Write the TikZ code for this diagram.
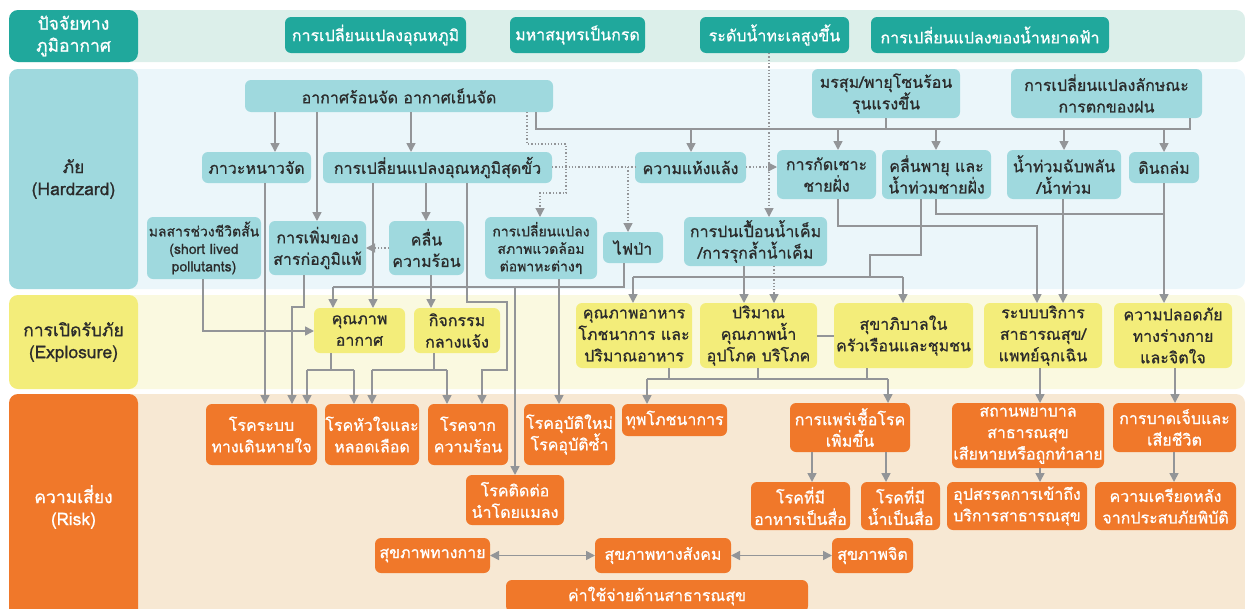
\documentclass[tikz,border=0pt]{standalone}
\usepackage{fontspec}
\usetikzlibrary{arrows.meta}
\newfontfamily\thai[Script=Thai,FakeBold=0.8]{Loma}
\definecolor{tpc}{HTML}{20A89C}
\definecolor{tpbg}{HTML}{DCEFEA}
\definecolor{hzc}{HTML}{9FD9DE}
\definecolor{hzbg}{HTML}{EBF6FA}
\definecolor{xpc}{HTML}{F3ED7A}
\definecolor{xpbg}{HTML}{FAF9E0}
\definecolor{rkc}{HTML}{F0782A}
\definecolor{rkbg}{HTML}{F7E8D3}
\definecolor{lnc}{HTML}{939598}
\definecolor{txt}{HTML}{2B2B2B}
\newcommand\bx[7]{\node[#1,minimum width={(#5)-(#3)},minimum height={(#6)-(#4)}] (#2) at ({((#3)+(#5))/2},{((#4)+(#6))/2}) {#7};}
\tikzset{
 base/.style={inner sep=0pt, outer sep=0pt, rounded corners=6pt, align=center, font=\thai\fontsize{16}{21.5}\selectfont},
 tp/.style={base, fill=tpc, text=white},
 hz/.style={base, fill=hzc, text=txt},
 xp/.style={base, fill=xpc, text=txt},
 rk/.style={base, fill=rkc, text=white},
 small/.style={font=\thai\fontsize{14}{17.5}\selectfont},
 lab/.style={rounded corners=9pt, font=\thai\fontsize{17.5}{22}\selectfont},
 ln/.style={draw=lnc, line width=1.6pt},
 ar/.style={ln, -{Triangle[width=9pt,length=9pt]}},
 dt/.style={draw=lnc, line width=1.3pt, dotted},
 dtar/.style={dt, -{Triangle[width=9pt,length=9pt]}},
 dar/.style={ln, {Triangle[width=9pt,length=9pt]}-{Triangle[width=9pt,length=9pt]}}
}
\begin{document}
\begin{tikzpicture}[x=1pt,y=-1pt]
\useasboundingbox (0,0) rectangle (1245,608);
% bands
\fill[tpbg, rounded corners=9pt] (10,10) rectangle (1245,62);
\fill[hzbg, rounded corners=9pt] (10,69) rectangle (1245,289);
\fill[xpbg, rounded corners=9pt] (10,295) rectangle (1245,389);
\fill[rkbg, rounded corners=9pt] (10,394) rectangle (1245,620);
% labels
\bx{tp,lab}{L1}{9}{10}{138}{62}{ปัจจัยทาง\\ภูมิอากาศ}
\bx{hz,lab}{L2}{9}{69}{138}{289}{ภัย\\(Hardzard)}
\bx{xp,lab}{L3}{9}{295}{138}{389}{การเปิดรับภัย\\(Explosure)}
\bx{rk,lab}{L4}{9}{394}{138}{620}{ความเสี่ยง\\(Risk)}
% top nodes
\bx{tp}{t1}{285}{17}{466}{53}{การเปลี่ยนแปลงอุณหภูมิ}
\bx{tp}{t2}{510}{17}{645}{53}{มหาสมุทรเป็นกรด}
\bx{tp}{t3}{700}{17}{849}{53}{ระดับน้ำทะเลสูงขึ้น}
\bx{tp}{t4}{871}{17}{1109}{53}{การเปลี่ยนแปลงของน้ำหยาดฟ้า}
% hazard nodes
\bx{hz}{A}{245}{80}{553}{112}{อากาศร้อนจัด อากาศเย็นจัด}
\bx{hz}{mr}{812}{69}{960}{118}{มรสุม/พายุโซนร้อน\\รุนแรงขึ้น}
\bx{hz}{rc}{1011}{69}{1202}{118}{การเปลี่ยนแปลงลักษณะ\\การตกของฝน}
\bx{hz}{hn}{202}{152}{311}{183}{ภาวะหนาวจัด}
\bx{hz}{ex}{323}{152}{552}{183}{การเปลี่ยนแปลงอุณหภูมิสุดขั้ว}
\bx{hz}{dr}{635}{152}{746}{183}{ความแห้งแล้ง}
\bx{hz}{er}{777}{150}{876}{199}{การกัดเซาะ\\ชายฝั่ง}
\bx{hz}{ss}{882}{150}{991}{199}{คลื่นพายุ และ\\น้ำท่วมชายฝั่ง}
\bx{hz}{fl}{1007}{150}{1121}{199}{น้ำท่วมฉับพลัน\\/น้ำท่วม}
\bx{hz}{ls}{1129}{152}{1199}{183}{ดินถล่ม}
\bx{hz,small}{sl}{147}{217}{261}{279}{มลสารช่วงชีวิตสั้น\\(short lived\\pollutants)}
\bx{hz}{al}{269}{221}{366}{275}{การเพิ่มของ\\สารก่อภูมิแพ้}
\bx{hz}{hw}{389}{221}{464}{275}{คลื่น\\ความร้อน}
\bx{hz,small}{ec}{485}{217}{597}{279}{การเปลี่ยนแปลง\\สภาพแวดล้อม\\ต่อพาหะต่างๆ}
\bx{hz}{wf}{603}{232}{663}{263}{ไฟป่า}
\bx{hz}{sw}{684}{217}{827}{266}{การปนเปื้อนน้ำเค็ม\\/การรุกล้ำน้ำเค็ม}
% exposure nodes
\bx{xp}{aq}{314}{308}{405}{353}{คุณภาพ\\อากาศ}
\bx{xp}{oa}{414}{308}{500}{353}{กิจกรรม\\กลางแจ้ง}
\bx{xp}{fd}{576}{303}{692}{368}{คุณภาพอาหาร\\โภชนาการ และ\\ปริมาณอาหาร}
\bx{xp}{wq}{700}{303}{817}{368}{ปริมาณ\\คุณภาพน้ำ\\อุปโภค บริโภค}
\bx{xp}{sn}{834}{303}{973}{368}{สุขาภิบาลใน\\ครัวเรือนและชุมชน}
\bx{xp}{hs}{984}{303}{1102}{368}{ระบบบริการ\\สาธารณสุข/\\แพทย์ฉุกเฉิน}
\bx{xp}{sf}{1114}{303}{1232}{368}{ความปลอดภัย\\ทางร่างกาย\\และจิตใจ}
% risk nodes
\bx{rk}{rs}{206}{404}{317}{465}{โรคระบบ\\ทางเดินหายใจ}
\bx{rk}{cv}{325}{404}{419}{465}{โรคหัวใจและ\\หลอดเลือด}
\bx{rk}{ht}{428}{404}{508}{465}{โรคจาก\\ความร้อน}
\bx{rk}{em}{524}{404}{615}{465}{โรคอุบัติใหม่\\โรคอุบัติซ้ำ}
\bx{rk}{vb}{466}{475}{564}{525}{โรคติดต่อ\\นำโดยแมลง}
\bx{rk}{ml}{622}{404}{727}{436}{ทุพโภชนาการ}
\bx{rk}{sp}{790}{403}{910}{452}{การแพร่เชื้อโรค\\เพิ่มขึ้น}
\bx{rk}{hf}{952}{403}{1104}{468}{สถานพยาบาล\\สาธารณสุข\\เสียหายหรือถูกทำลาย}
\bx{rk}{inj}{1113}{403}{1236}{452}{การบาดเจ็บและ\\เสียชีวิต}
\bx{rk}{fb}{751}{482}{850}{530}{โรคที่มี\\อาหารเป็นสื่อ}
\bx{rk}{wb}{861}{482}{940}{530}{โรคที่มี\\น้ำเป็นสื่อ}
\bx{rk}{ob}{947}{482}{1087}{530}{อุปสรรคการเข้าถึง\\บริการสาธารณสุข}
\bx{rk}{ps}{1095}{482}{1236}{530}{ความเครียดหลัง\\จากประสบภัยพิบัติ}
\bx{rk}{ph}{375}{538}{490}{573}{สุขภาพทางกาย}
\bx{rk}{so}{595}{538}{731}{573}{สุขภาพทางสังคม}
\bx{rk}{mh}{832}{538}{913}{573}{สุขภาพจิต}
\bx{rk}{co}{506}{580}{808}{612}{ค่าใช้จ่ายด้านสาธารณสุข}
% ---- connectors: hazard level
\draw[ar] (275,0 |- A.south) -- (275,0 |- hn.north);
\draw[ar] (317,0 |- A.south) -- (317,0 |- al.north);
\draw[ar] (411,0 |- A.south) -- (411,0 |- ex.north);
\draw[dtar] (527,0 |- A.south) -- (527,144) -- (566,144) -- (566,193) -- (540,193) -- (540,0 |- ec.north);
\draw[ln] (536,0 |- A.south) -- (536,129) -- (1190,129) -- (1190,0 |- rc.south);
\draw[ln] (886,0 |- mr.south) -- (886,129);
\draw[ar] (691,129) -- (691,0 |- dr.north);
\draw[ar] (838,129) -- (838,0 |- er.north);
\draw[ar] (936,129) -- (936,0 |- ss.north);
\draw[ar] (1064,129) -- (1064,0 |- fl.north);
\draw[ar] (1164,129) -- (1164,0 |- ls.north);
\draw[ar] (426,0 |- ex.south) -- (426,0 |- hw.north);
\draw[dtar] (hw.west |- 0,248) -- (al.east |- 0,248);
\draw[dt] (ex.east |- 0,167) -- (dr.west |- 0,167);
\draw[dtar] (628,167) -- (628,0 |- wf.north);
\draw[dtar] (dr.east |- 0,167) -- (er.west |- 0,167);
\draw[dtar] (769,0 |- t3.south) -- (769,0 |- sw.north);
\draw[dtar] (774,0 |- sw.south) -- (774,0 |- wq.north);
% hazard -> exposure / risk
\draw[ar] (265,0 |- hn.south) -- (265,0 |- rs.north);
\draw[ar] (304,0 |- al.south) -- (304,307) -- (292,307) -- (292,0 |- rs.north);
\draw[ar] (203,0 |- sl.south) -- (203,331) -- (aq.west |- 0,331);
\draw[ar] (373,0 |- ex.south) -- (373,0 |- aq.north);
\draw[ln] (624,0 |- wf.south) -- (624,287) -- (333,287);
\draw[ar] (333,287) -- (333,0 |- aq.north);
\draw[ar] (515,287) -- (515,0 |- vb.north);
\draw[ar] (431,0 |- hw.south) -- (431,0 |- oa.north);
\draw[ar] (467,0 |- ex.south) -- (467,302) -- (507,302) -- (507,370) -- (482,370) -- (482,0 |- ht.north);
\draw[ar] (559,0 |- ec.south) -- (559,0 |- em.north);
\draw[ar] (744,0 |- sw.south) -- (744,0 |- wq.north);
\draw[ln] (921,0 |- ss.south) -- (921,255) -- (870,255) -- (870,277);
\draw[ln] (633,277) -- (903,277);
\draw[ar] (633,277) -- (633,0 |- fd.north);
\draw[ar] (903,277) -- (903,0 |- sn.north);
\draw[ar] (838,0 |- er.south) -- (838,226) -- (1037,226) -- (1037,0 |- hs.north);
\draw[ar] (1063,0 |- fl.south) -- (1063,0 |- hs.north);
\draw[ln] (936,0 |- ss.south) -- (936,214) -- (1164,214);
\draw[ar] (1164,0 |- ls.south) -- (1164,0 |- sf.north);
% exposure -> risk
\draw[ln] (331,0 |- aq.south) -- (331,370);
\draw[ln] (307,370) -- (354,370);
\draw[ar] (307,370) -- (307,0 |- rs.north);
\draw[ar] (354,370) -- (354,0 |- cv.north);
\draw[ln] (434,0 |- oa.south) -- (434,370);
\draw[ln] (372,370) -- (447,370);
\draw[ar] (372,370) -- (372,0 |- cv.north);
\draw[ar] (447,370) -- (447,0 |- ht.north);
\draw[ln] (wq.east |- 0,336) -- (sn.west |- 0,336);
\draw[ln] (669,0 |- fd.south) -- (669,379);
\draw[ln] (758,0 |- wq.south) -- (758,379);
\draw[ln] (867,0 |- sn.south) -- (867,379);
\draw[ln] (647,379) -- (888,379);
\draw[ar] (647,379) -- (647,0 |- ml.north);
\draw[ar] (888,379) -- (888,0 |- sp.north);
\draw[ar] (1040,0 |- hs.south) -- (1040,0 |- hf.north);
\draw[ar] (1175,0 |- sf.south) -- (1175,0 |- inj.north);
% risk internal
\draw[ar] (812,0 |- sp.south) -- (812,0 |- fb.north);
\draw[ar] (886,0 |- sp.south) -- (886,0 |- wb.north);
\draw[ar] (1040,0 |- hf.south) -- (1040,0 |- ob.north);
\draw[ar] (1174,0 |- inj.south) -- (1174,0 |- ps.north);
\draw[dar] (ph.east) -- (so.west);
\draw[dar] (so.east) -- (mh.west);
\end{tikzpicture}
\end{document}
